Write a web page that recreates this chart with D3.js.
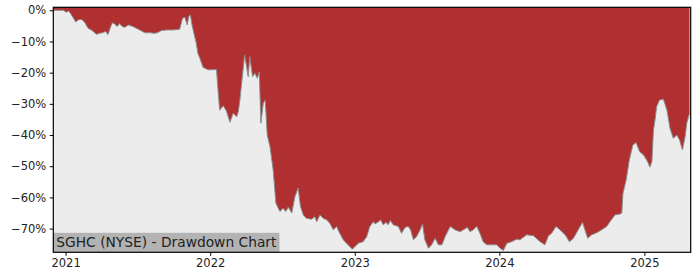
<!DOCTYPE html>
<html>
<head>
<meta charset="utf-8">
<script src="https://cdn.jsdelivr.net/npm/d3@7"></script>
<style>
  body { margin: 0; background: #fff; }
  svg text { font-family: "DejaVu Sans", sans-serif; fill: #222; }
</style>
</head>
<body>
<div id="chart"></div>
<script>
const title = "SGHC (NYSE) - Drawdown Chart";

const dates = [
  "2020-12-01","2020-12-26","2021-01-03","2021-01-09","2021-01-16","2021-01-27","2021-02-01","2021-02-10",
  "2021-02-18","2021-02-27","2021-03-07","2021-03-20","2021-03-28","2021-04-06","2021-04-12","2021-04-18",
  "2021-04-25","2021-04-29","2021-05-05","2021-05-11","2021-05-18","2021-05-22","2021-05-30","2021-06-08",
  "2021-06-20","2021-07-07","2021-07-20","2021-08-02","2021-08-14","2021-08-22","2021-08-31","2021-09-13",
  "2021-09-29","2021-10-16","2021-10-23","2021-10-29","2021-11-04","2021-11-08","2021-11-12","2021-11-17",
  "2021-11-23","2021-11-27","2021-12-01","2021-12-06","2021-12-14","2021-12-27","2022-01-17","2022-01-21",
  "2022-01-25","2022-02-03","2022-02-11","2022-02-20","2022-02-28","2022-03-09","2022-03-13","2022-03-17",
  "2022-03-24","2022-03-29","2022-04-03","2022-04-07","2022-04-11","2022-04-18","2022-04-24","2022-04-30",
  "2022-05-05","2022-05-09","2022-05-15","2022-05-20","2022-05-25","2022-06-01","2022-06-09","2022-06-16",
  "2022-06-26","2022-07-04","2022-07-11","2022-07-17","2022-07-26","2022-08-03","2022-08-11","2022-08-17",
  "2022-08-24","2022-09-01","2022-09-14","2022-09-22","2022-09-27","2022-10-05","2022-10-13","2022-10-22",
  "2022-10-30","2022-11-08","2022-11-16","2022-11-24","2022-12-03","2022-12-11","2022-12-20","2022-12-26",
  "2023-01-01","2023-01-10","2023-01-22","2023-01-31","2023-02-08","2023-02-17","2023-02-21","2023-03-02",
  "2023-03-07","2023-03-14","2023-03-21","2023-03-26","2023-04-01","2023-04-08","2023-04-21","2023-04-29",
  "2023-05-08","2023-05-16","2023-05-22","2023-05-29","2023-06-06","2023-06-15","2023-06-21","2023-06-27",
  "2023-07-06","2023-07-14","2023-07-23","2023-07-31","2023-08-09","2023-08-17","2023-08-30","2023-09-11",
  "2023-09-24","2023-10-02","2023-10-12","2023-10-19","2023-10-27","2023-11-05","2023-11-13","2023-11-21",
  "2023-11-30","2023-12-13","2023-12-25","2024-01-03","2024-01-11","2024-01-20","2024-02-01","2024-02-14",
  "2024-02-22","2024-03-10","2024-03-27","2024-04-13","2024-04-25","2024-05-04","2024-05-12","2024-05-23",
  "2024-06-02","2024-06-15","2024-06-26","2024-07-06","2024-07-18","2024-07-29","2024-08-04","2024-08-11",
  "2024-08-21","2024-09-03","2024-09-15","2024-09-28","2024-10-06","2024-10-19","2024-11-01","2024-11-05",
  "2024-11-08","2024-11-16","2024-11-24","2024-12-03","2024-12-11","2024-12-20","2024-12-30","2025-01-09",
  "2025-01-15","2025-01-20","2025-01-24","2025-01-28","2025-02-01","2025-02-08","2025-02-18","2025-02-27",
  "2025-03-07","2025-03-15","2025-03-24","2025-03-31","2025-04-07","2025-04-14","2025-04-18","2025-04-25"
];

const drawdown = [
  0, 0, -0.6, -0.2, -1.5, -3.8, -3.1, -2.9,
  -3.8, -5.8, -6.3, -7.7, -7.4, -7.1, -6.8, -7.8,
  -5.2, -4.0, -4.4, -5.2, -4.2, -5.0, -5.5, -4.7,
  -5.2, -6.3, -7.2, -7.2, -7.4, -7.1, -6.5, -6.3,
  -6.3, -6.1, -2.6, -2.2, -4.7, -2.0, -1.5, -5.2,
  -8.5, -10.6, -13.8, -15.4, -18.3, -19.1, -19.0, -26.0,
  -32.0, -30.6, -32.3, -35.9, -33.0, -34.1, -32.5, -28.8,
  -20.2, -14.3, -18.1, -21.3, -14.9, -21.3, -20.2, -21.8,
  -19.7, -36.2, -29.8, -28.8, -40.0, -43.7, -51.2, -61.9,
  -64.5, -63.5, -64.5, -63.1, -65.0, -59.7, -57.0, -62.9,
  -65.6, -66.7, -67.0, -66.2, -67.8, -65.6, -66.7, -67.2,
  -68.3, -70.4, -69.3, -71.5, -73.6, -74.7, -75.8, -76.6,
  -75.8, -74.7, -74.2, -72.6, -69.3, -67.8, -68.5, -67.8,
  -67.2, -68.8, -68.0, -68.8, -67.4, -68.8, -69.3, -71.5,
  -69.6, -69.3, -70.4, -73.6, -72.6, -70.4, -68.5, -73.6,
  -76.3, -75.2, -73.1, -75.2, -75.2, -72.6, -69.3, -70.4,
  -71.0, -70.4, -69.6, -71.0, -70.4, -69.3, -71.5, -74.2,
  -75.2, -75.2, -75.2, -76.3, -77.0, -74.7, -74.2, -73.4,
  -73.6, -72.0, -72.3, -74.2, -75.2, -72.3, -71.5, -69.3,
  -70.4, -72.0, -74.2, -73.1, -70.4, -68.0, -70.4, -73.1,
  -72.0, -71.3, -70.4, -69.3, -67.8, -65.6, -65.3, -65.0,
  -58.7, -54.4, -48.0, -43.2, -42.4, -45.3, -46.4, -48.5,
  -50.3, -48.5, -38.4, -35.0, -30.9, -28.8, -28.5, -32.0,
  -38.0, -41.0, -40.0, -41.6, -44.8, -40.5, -36.2, -33.0
];

const yTicks = [0, -10, -20, -30, -40, -50, -60, -70];
const xTicks = ["2021-01-01", "2022-01-01", "2023-01-01", "2024-01-01", "2025-01-01"];

const width = 700, height = 280;
const margin = { top: 7.3, right: 9.3, bottom: 27.7, left: 53.3 };
const fillColor = "#b03032";
const bgColor = "#ececec";

const parse = d3.timeParse("%Y-%m-%d");
const data = dates.map((d, i) => ({ date: parse(d), value: drawdown[i] }));

const svg = d3.select("#chart").append("svg")
  .attr("width", width)
  .attr("height", height);

const x = d3.scaleTime()
  .domain([parse("2020-12-01"), parse("2025-04-28")])
  .range([margin.left, width - margin.right]);

const y = d3.scaleLinear()
  .domain([-77.6, 0.96])
  .range([height - margin.bottom, margin.top]);

// plot background
svg.append("rect")
  .attr("x", margin.left)
  .attr("y", margin.top)
  .attr("width", width - margin.left - margin.right)
  .attr("height", height - margin.top - margin.bottom)
  .attr("fill", bgColor);

// red drawdown area, filled from the top of the axes down to the curve
const area = d3.area()
  .x(d => x(d.date))
  .y0(y(y.domain()[1]))
  .y1(d => y(d.value));

svg.append("path")
  .datum(data)
  .attr("d", area)
  .attr("fill", fillColor);

svg.append("path")
  .datum(data)
  .attr("d", d3.line().x(d => x(d.date)).y(d => y(d.value)))
  .attr("fill", "none")
  .attr("stroke", "#8c8c8c")
  .attr("stroke-width", 1);

// label box in the bottom-left corner
const label = svg.append("g");
const labelRect = label.append("rect").attr("fill", "#b3b3b3");
const labelText = label.append("text")
  .attr("x", margin.left + 3)
  .attr("y", height - margin.bottom - 5)
  .style("font-size", "13.8px")
  .text(title);
const tw = labelText.node().getComputedTextLength();
labelRect
  .attr("x", margin.left)
  .attr("y", height - margin.bottom - 19.5)
  .attr("width", tw + 6)
  .attr("height", 19.5);

// axes
const fmtPct = d => (d < 0 ? "\u2212" : "") + Math.abs(d) + "%";

const yAxis = svg.append("g")
  .attr("transform", `translate(${margin.left},0)`)
  .call(d3.axisLeft(y).tickValues(yTicks).tickFormat(fmtPct).tickSize(3.5).tickPadding(3.5));

const xAxis = svg.append("g")
  .attr("transform", `translate(0,${height - margin.bottom})`)
  .call(d3.axisBottom(x).tickValues(xTicks.map(parse)).tickFormat(d3.timeFormat("%Y")).tickSize(3.5).tickPadding(3.5));

[yAxis, xAxis].forEach(g => {
  g.select(".domain").remove();
  g.selectAll(".tick line").attr("stroke", "#000").attr("stroke-width", 1);
  g.selectAll(".tick text")
    .style("font-size", "11.5px")
    .style("font-family", "'DejaVu Sans', sans-serif")
    .attr("fill", "#222");
});

// frame
svg.append("rect")
  .attr("x", margin.left)
  .attr("y", margin.top)
  .attr("width", width - margin.left - margin.right)
  .attr("height", height - margin.top - margin.bottom)
  .attr("fill", "none")
  .attr("stroke", "#000")
  .attr("stroke-width", 1.2);
</script>
</body>
</html>
